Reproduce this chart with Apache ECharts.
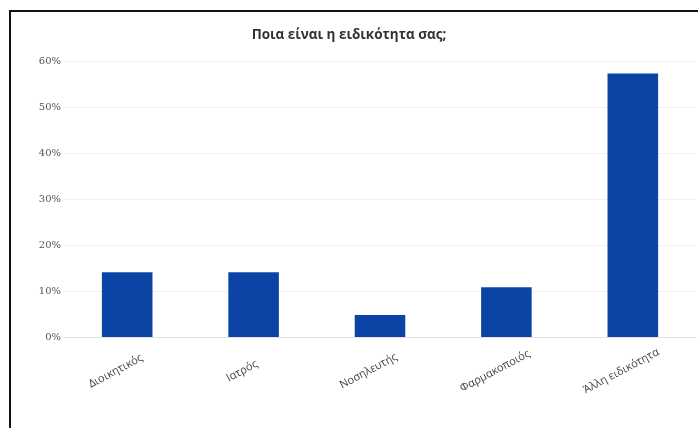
<!DOCTYPE html>
<html>
<head>
<meta charset="utf-8">
<style>
  html, body { margin: 0; padding: 0; background: #ffffff; }
  #chart { width: 698px; height: 428px; }
</style>
<script src="https://cdn.jsdelivr.net/npm/echarts@6/dist/echarts.min.js"></script>
</head>
<body>
<div id="chart"></div>
<script>
// Survey question: respondents' specialty (share of answers, %)
const chartTitle = 'Ποια είναι η ειδικότητα σας;';
const categories = ['Διοικητικός', 'Ιατρός', 'Νοσηλευτής', 'Φαρμακοποιός', 'Άλλη ειδικότητα'];
const shares = [14.1, 14.1, 4.8, 10.8, 57.3];
const yTicks = [0, 10, 20, 30, 40, 50, 60];

const chart = echarts.init(document.getElementById('chart'), null, { renderer: 'canvas' });

chart.setOption({
  backgroundColor: '#ffffff',
  animation: false,
  title: {
    text: chartTitle,
    left: 'center',
    top: 23,
    textStyle: {
      fontFamily: 'Open Sans',
      fontSize: 13.5,
      fontWeight: 'bold',
      color: '#333333'
    }
  },
  graphic: [{
    type: 'rect',
    left: 9,
    top: 10,
    shape: { width: 700, height: 430 },
    style: { fill: 'transparent', stroke: '#111111', lineWidth: 2 },
    silent: true
  }],
  grid: { left: 64, right: 2, top: 61, bottom: 91 },
  xAxis: {
    type: 'category',
    data: categories,
    axisTick: { show: false },
    axisLine: { show: true, lineStyle: { color: '#e2e2e2', width: 1 } },
    axisLabel: {
      rotate: 28,
      interval: 0,
      align: 'center',
      verticalAlign: 'middle',
      margin: 28,
      padding: [0, 26, 0, 0],
      fontFamily: 'Open Sans',
      fontSize: 11,
      color: '#404040'
    }
  },
  yAxis: {
    type: 'value',
    min: yTicks[0],
    max: yTicks[yTicks.length - 1],
    interval: 10,
    axisLine: { show: false },
    axisTick: { show: false },
    splitLine: { show: true, lineStyle: { color: '#f0f0f0', width: 1 } },
    axisLabel: {
      margin: 3,
      formatter: v => v + '%',
      fontFamily: 'DejaVu Serif',
      fontSize: 10,
      color: '#555555'
    }
  },
  series: [{
    type: 'bar',
    data: shares,
    barWidth: '40%',
    itemStyle: { color: '#0c44a6' }
  }]
});
</script>
</body>
</html>
